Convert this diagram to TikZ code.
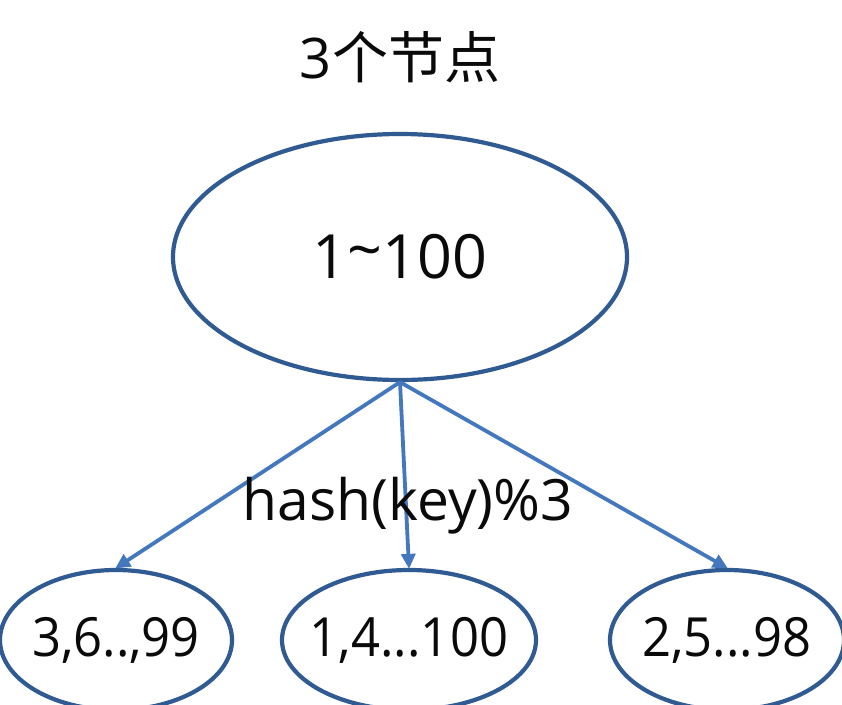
\documentclass[tikz,border=0pt]{standalone}
\usepackage{fontspec}
\setmainfont{Open Sans}
\newfontfamily\cjkfont{Noto Sans CJK SC}
\usetikzlibrary{shapes.geometric,arrows.meta}
\definecolor{ellblue}{HTML}{2F5A92}
\definecolor{arrblue}{HTML}{4478BE}
\definecolor{txt}{HTML}{0A0A0A}
\tikzset{
  oval/.style={ellipse, draw=ellblue, line width=4.2pt, inner sep=0pt, text=txt},
  link/.style={draw=arrblue, line width=3.8pt, -{Triangle[length=15pt,width=14pt]}, shorten >=-1pt},
  lbl/.style={inner sep=0pt, text=txt}
}
\newcommand{\zw}[1]{\makebox[0pt]{#1}}
\begin{document}
\begin{tikzpicture}[x=1pt,y=-1pt]
\useasboundingbox[fill=white] (0,0) rectangle (842,704);
\node[lbl, font=\fontsize{56}{60}\selectfont] (title) at (400,57) {3\cjkfont 个节点};
\node[oval, minimum width=454pt, minimum height=246pt, font=\fontsize{61}{64}\selectfont] (top) at (400,257) {\zw{1\raisebox{0.12em}{\char"007E}100}};
\node[oval, minimum width=232pt, minimum height=140pt, font=\fontsize{54}{56}\selectfont] (left) at (116,640) {\zw{\scalebox{0.94}[1]{3,6..,99}}};
\node[oval, minimum width=254pt, minimum height=140pt, font=\fontsize{54}{56}\selectfont] (mid) at (409,640) {\zw{\scalebox{0.94}[1]{1,4...100}}};
\node[oval, minimum width=234pt, minimum height=140pt, font=\fontsize{54}{56}\selectfont] (right) at (727,640) {\zw{\scalebox{0.94}[1]{2,5...98}}};
\draw[link] (top.south) -- (left.north);
\draw[link] (top.south) -- (mid.north);
\draw[link] (top.south) -- (right.north);
\node[lbl, font=\fontsize{57}{60}\selectfont] (hash) at (408,506) {hash(key)\%3};
\end{tikzpicture}
\end{document}
